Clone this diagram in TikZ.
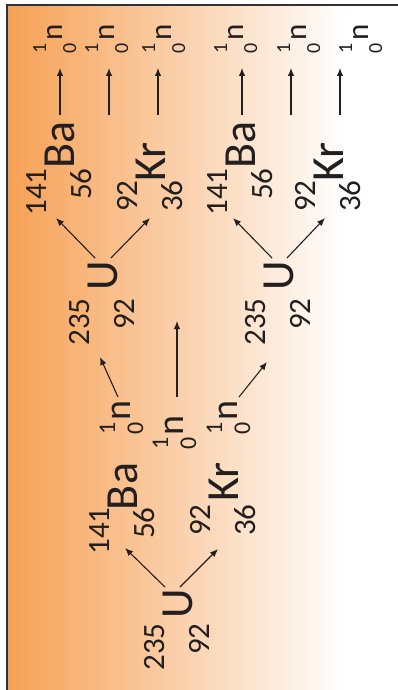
\documentclass[tikz,border=0pt]{standalone}
\usepackage{fontspec}
\setmainfont{Carlito}
\usetikzlibrary{arrows.meta}
\definecolor{orng}{RGB}{246,160,84}
\definecolor{ink}{RGB}{35,31,32}
\definecolor{framec}{RGB}{50,50,50}
\newcommand\scrstack[5]{{\fontsize{#3}{#3}\selectfont
  \setbox0\hbox{#1}\setbox2\hbox{#2}%
  \ifdim\wd0>\wd2 \dimen0=\wd0 \else \dimen0=\wd2 \fi
  \hbox to\dimen0{\hss\raise#4\box0}\kern-\dimen0
  \hbox to\dimen0{\hss\lower#5\box2}}}
\newcommand\nuc[4]{\smash{\llap{\scrstack{#1}{#2}{31}{28pt}{17pt}\kern#4}}{\fontsize{46}{46}\selectfont #3}}
\newcommand\neut[5]{\smash{\llap{\scrstack{1}{0}{#2}{#3}{#4}\kern#5}}{\fontsize{#1}{#1}\selectfont n}}
\newcommand\neutT{\neut{31}{20}{16pt}{14pt}{3pt}}
\newcommand\neutM{\neut{38}{24}{15pt}{13pt}{2pt}}
\tikzset{
  sym/.style={rotate=90, anchor=base west, inner sep=0pt, outer sep=0pt, text=ink},
  arr/.style={draw=ink, line width=1.1pt, -{Latex[length=8pt,width=6.5pt]}},
}
\begin{document}
\begin{tikzpicture}[x=1pt,y=-1pt]
\useasboundingbox (0,0) rectangle (398,690);
\fill[white] (0,0) rectangle (398,690);
\shade[left color=orng, right color=white] (7,5) rectangle (345,700);
\draw[framec, line width=1.4pt] (7,700) -- (7,5) -- (410,5);

% first fission
\node[sym] (U0) at (192,618.5) {\nuc{235}{92}{U}{5pt}};
\node[sym] (Ba0) at (137,510) {\nuc{141}{56}{Ba}{-2.5pt}};
\node[sym] (Kr0) at (238,501.5) {\nuc{92}{36}{Kr}{3pt}};

% neutrons released
\node[sym] (na) at (130,420) {\neutM};
\node[sym] (nb) at (183,435) {\neutM};
\node[sym] (nc) at (237,420) {\neutM};
\coordinate (fb) at (177,321);

% second generation
\node[sym] (U1) at (117.5,290.5) {\nuc{235}{92}{U}{8pt}};
\node[sym] (U2) at (293,290.5) {\nuc{235}{92}{U}{8pt}};

\node[sym] (Ba1) at (74,168.5) {\nuc{141}{56}{Ba}{0pt}};
\node[sym] (Kr1) at (165,181.5) {\nuc{92}{36}{Kr}{-1pt}};
\node[sym] (Ba2) at (255,168.5) {\nuc{141}{56}{Ba}{0pt}};
\node[sym] (Kr2) at (343,181.5) {\nuc{92}{36}{Kr}{-1pt}};
\coordinate (f2) at (109,115);
\coordinate (f5) at (291,115);

% top neutrons
\node[sym] (n1) at (62,40.5) {\neutT};
\node[sym] (n2) at (114,40.5) {\neutT};
\node[sym] (n3) at (171,40.5) {\neutT};
\node[sym] (n4) at (243,40.5) {\neutT};
\node[sym] (n5) at (306,40.5) {\neutT};
\node[sym] (n6) at (368,40.5) {\neutT};

% arrows
\draw[arr] ([shift={(-27,-31.5)}]U0.base west) -- ([shift={(-12,38)}]Ba0.base west);
\draw[arr] ([shift={(-12,-31.5)}]U0.base west) -- ([shift={(-20,47.5)}]Kr0.base west);

\draw[arr] ([shift={(-12,-23)}]na.base west) -- ([shift={(-17.5,66.5)}]U1.base west);
\draw[arr] ([shift={(-6,-38)}]nb.base west) -- (fb);
\draw[arr] ([shift={(2,-23)}]nc.base west) -- ([shift={(-26,71.5)}]U2.base west);

\draw[arr] ([shift={(-22.5,-32.5)}]U1.base west) -- ([shift={(-18,49.5)}]Ba1.base west);
\draw[arr] ([shift={(-6.5,-32.5)}]U1.base west) -- ([shift={(-15,36.5)}]Kr1.base west);
\draw[arr] ([shift={(-21,-32.5)}]U2.base west) -- ([shift={(-22,49.5)}]Ba2.base west);
\draw[arr] ([shift={(-6,-32.5)}]U2.base west) -- ([shift={(-18,36.5)}]Kr2.base west);

\draw[arr] ([shift={(-14,-53.5)}]Ba1.base west) -- ([shift={(-2,27.5)}]n1.base west);
\draw[arr] (f2) -- ([shift={(-5,27.5)}]n2.base west);
\draw[arr] ([shift={(-7,-66.5)}]Kr1.base west) -- ([shift={(-13,27.5)}]n3.base west);
\draw[arr] ([shift={(-13,-53.5)}]Ba2.base west) -- ([shift={(-1,27.5)}]n4.base west);
\draw[arr] (f5) -- ([shift={(-15,27.5)}]n5.base west);
\draw[arr] ([shift={(-3,-66.5)}]Kr2.base west) -- ([shift={(-28,27.5)}]n6.base west);
\end{tikzpicture}
\end{document}
